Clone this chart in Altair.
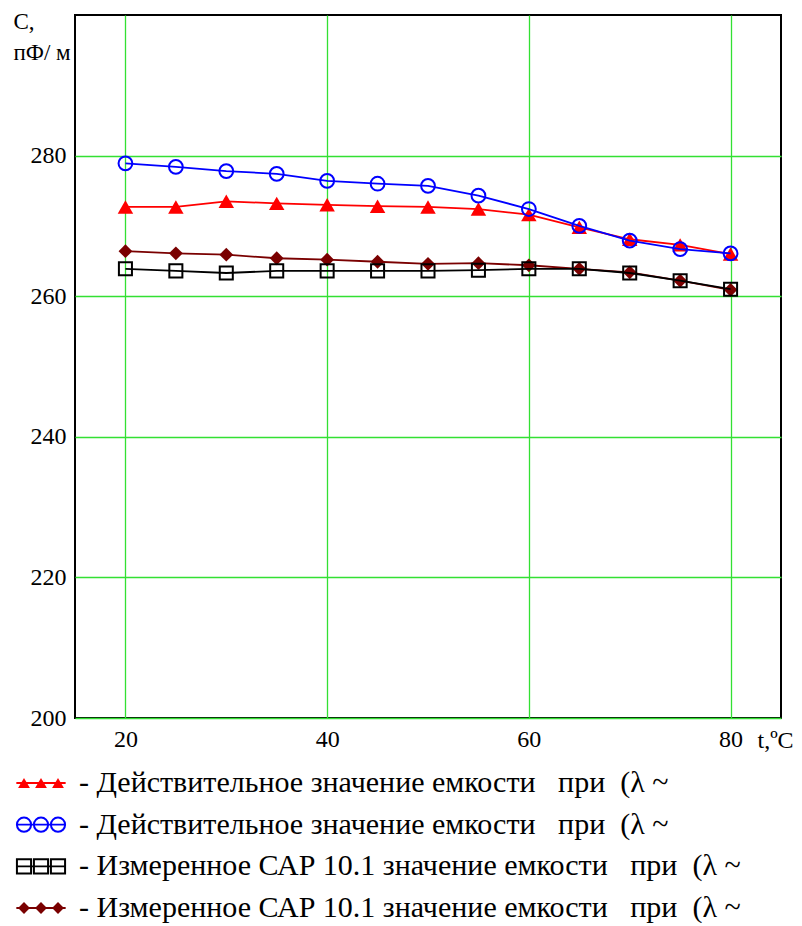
import altair as alt
import pandas as pd

# ---- data ----
temps = [20, 25, 30, 35, 40, 45, 50, 55, 60, 65, 70, 75, 80]
c_real_red = [272.7, 272.7, 273.5, 273.2, 273.0, 272.8, 272.7, 272.4, 271.6, 269.8, 268.1, 267.3, 266.0]
c_real_blue = [278.9, 278.4, 277.8, 277.4, 276.4, 276.0, 275.7, 274.3, 272.4, 270.0, 267.9, 266.7, 266.1]
c_meas_black = [263.9, 263.6, 263.3, 263.6, 263.6, 263.6, 263.6, 263.7, 263.9, 263.9, 263.3, 262.2, 261.0]
c_meas_darkred = [266.4, 266.1, 265.9, 265.4, 265.2, 264.9, 264.6, 264.7, 264.4, 263.9, 263.4, 262.2, 260.9]

x_ticks = [20, 40, 60, 80]
y_ticks = [200, 220, 240, 260, 280]

legend_labels = [
    "- Действительное значение емкости\u00a0\u00a0 при\u00a0 (λ ~",
    "- Действительное значение емкости\u00a0\u00a0 при\u00a0 (λ ~",
    "- Измеренное САР 10.1 значение емкости\u00a0\u00a0 при\u00a0 (λ ~",
    "- Измеренное САР 10.1 значение емкости\u00a0\u00a0 при\u00a0 (λ ~",
]

# style per series (order = legend order)
series_values = [c_real_red, c_real_blue, c_meas_black, c_meas_darkred]
colors = ["#ff0000", "#0000ff", "#000000", "#7a0000"]
shapes = ["triangle-up", "circle", "square", "diamond"]
filled = [True, False, False, True]
sizes = [240, 190, 170, 190]
leg_sizes = [140, 200, 200, 140]
draw_order = [3, 2, 0, 1]

FONT = "Liberation Serif"

xscale = alt.Scale(domain=[15, 85], nice=False, zero=False)
yscale = alt.Scale(domain=[200, 300], nice=False, zero=False)

x_enc = alt.X("t:Q", scale=xscale,
              axis=alt.Axis(values=x_ticks, title="t,ºC", grid=True,
                            labelPadding=9, titleX=682, titleY=29,
                            titleAlign="left", titleBaseline="alphabetic",
                            titleFontWeight="normal", titleFontSize=24,
                            titleFont=FONT, labelFont=FONT))
y_enc = alt.Y("c:Q", scale=yscale,
              axis=alt.Axis(values=y_ticks, title=["C,", "пФ/ м"], grid=True,
                            labelPadding=9, titleAngle=0, titleX=-62, titleY=-5,
                            titleAlign="left", titleBaseline="top",
                            titleFontWeight="normal", titleFontSize=23,
                            titleLineHeight=31, titleFont=FONT, labelFont=FONT))

main_layers = []
for i in draw_order:
    df = pd.DataFrame({"t": temps, "c": series_values[i]})
    line = alt.Chart(df).mark_line(color=colors[i], strokeWidth=1.8).encode(x=x_enc, y=y_enc)
    if filled[i]:
        pts = alt.Chart(df).mark_point(shape=shapes[i], filled=True, color=colors[i],
                                       size=sizes[i], opacity=1).encode(x=x_enc, y=y_enc)
    else:
        pts = alt.Chart(df).mark_point(shape=shapes[i], filled=False, color=colors[i],
                                       size=sizes[i], strokeWidth=2, opacity=1).encode(x=x_enc, y=y_enc)
    main_layers += [line, pts]

main = alt.layer(*main_layers)

# ---- legend drawn through its own scales ----
kx = alt.Scale(domain=[0, 2], range=[-51, -17])
ry = alt.Scale(domain=[0, 3], range=[768, 893])

leg_layers = []
for i in range(4):
    mdf = pd.DataFrame({"k": [0, 1, 2], "row": [i] * 3})
    ldf = pd.DataFrame({"k": [-0.45, 2.45], "row": [i] * 2})
    lx = alt.X("k:Q", scale=kx, axis=None)
    ly = alt.Y("row:Q", scale=ry, axis=None)
    leg_layers.append(alt.Chart(ldf).mark_line(color=colors[i], strokeWidth=1.8).encode(x=lx, y=ly))
    if filled[i]:
        leg_layers.append(alt.Chart(mdf).mark_point(shape=shapes[i], filled=True, color=colors[i],
                                                    size=leg_sizes[i], opacity=1).encode(x=lx, y=ly))
    else:
        leg_layers.append(alt.Chart(mdf).mark_point(shape=shapes[i], filled=False, color=colors[i],
                                                    size=leg_sizes[i], strokeWidth=2, opacity=1).encode(x=lx, y=ly))

tdf = pd.DataFrame({"row": [0, 1, 2, 3], "label": legend_labels})
leg_layers.append(
    alt.Chart(tdf).mark_text(align="left", baseline="middle", font=FONT, fontSize=30, color="black")
    .encode(x=alt.value(4), y=alt.Y("row:Q", scale=ry, axis=None), text="label:N")
)
legend = alt.layer(*leg_layers)

chart = (
    alt.layer(main, legend)
    .resolve_scale(x="independent", y="independent")
    .properties(width=706, height=703,
                padding={"left": 67, "top": 7, "right": 13, "bottom": 205},
                autosize=alt.AutoSizeParams(type="none"))
    .configure(font=FONT)
    .configure_view(stroke="black", strokeWidth=2)
    .configure_text(font=FONT)
    .configure_axis(gridColor="#33e033", gridWidth=1.3, gridOpacity=1,
                    domain=False, ticks=False,
                    labelFont=FONT, labelFontSize=24, labelColor="black",
                    titleFont=FONT, titleColor="black")
)

chart.save("out.html", embed_options={"renderer": "svg", "actions": False})
